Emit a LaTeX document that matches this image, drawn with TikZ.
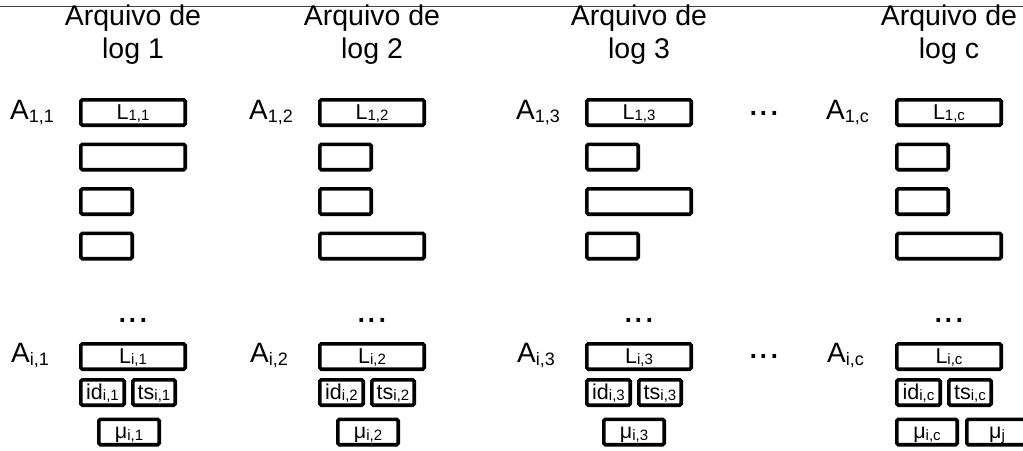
\documentclass[tikz,border=0pt]{standalone}
\usepackage{fontspec}
\setmainfont{Liberation Sans}
% lowered, smaller index text after a symbol
\newcommand{\bigsub}[1]{\raisebox{-3pt}{\fontsize{18}{18}\selectfont #1}}
\newcommand{\smallsub}[1]{\raisebox{-1.5pt}{\fontsize{15}{15}\selectfont #1}}
\begin{document}
\begin{tikzpicture}[x=1pt,y=-1pt,
  title/.style={font=\fontsize{28.5}{28.5}\selectfont, anchor=base, inner sep=0pt},
  alabel/.style={font=\fontsize{28}{28}\selectfont, anchor=base west, inner sep=0pt},
  rec/.style={draw, line width=3.6pt, rounded corners=1.5pt, inner sep=0pt, outer sep=0pt,
    anchor=west, minimum height=25.4pt, text height=13.6pt, text depth=0pt,
    font=\fontsize{21.5}{21.5}\selectfont},
  long/.style={rec, minimum width=104.4pt},
  short/.style={rec, minimum width=51.4pt},
  idbox/.style={rec, minimum width=43.4pt},
  tsbox/.style={rec, minimum width=42.4pt},
  mubox/.style={rec, minimum width=60.4pt},
  dots/.style={font=\fontsize{38}{38}\selectfont, inner sep=0pt, anchor=base}]
\useasboundingbox (0,0) rectangle (1023,450);

% rule across the top
\draw[line width=0.9pt, black!75] (0,6) -- (1023,6);

% one column per log file
\foreach \n/\lx/\ta/\tb/\tc/\mo in {1/79/long/short/short/18, 2/318/short/short/long/18,
                                      3/585/short/long/short/17, c/895/short/short/long/0}{
  \node[title] (t\n a) at (\lx+54,25) {Arquivo de};
  \node[title] (t\n b) at (\lx+54,58) {log \n};
  \node[alabel] (A1\n) at (\lx-69,119.5) {A\bigsub{1,\n}};
  \node[long] (L1\n) at (\lx+1.8,112.5) {L\smallsub{1,\n}};
  \node[\ta] (r2\n) at (\lx+1.8,157) {};
  \node[\tb] (r3\n) at (\lx+1.8,201.5) {};
  \node[\tc] (r4\n) at (\lx+1.8,246) {};
  \node[dots] (vd\n) at (\lx+54,322) {...};
  \node[alabel] (Ai\n) at (\lx-68,362) {A\bigsub{i,\n}};
  \node[long] (Li\n) at (\lx+1.8,356.5) {L\smallsub{i,\n}};
  \node[idbox] (id\n) at (\lx+1.8,392.5) {id\smallsub{i,\n}};
  \node[tsbox] (ts\n) at (\lx+53.8,392.5) {ts\smallsub{i,\n}};
  \node[mubox] (mu\n) at (\lx+\mo+1.8,432) {μ\smallsub{i,\n}};
}
\node[mubox] (muj) at (966.8,432) {μ\smallsub{j}};

% dots between the third and the last column
\node[dots] (hd1) at (764,115) {...};
\node[dots] (hd2) at (764,358) {...};
\end{tikzpicture}
\end{document}
